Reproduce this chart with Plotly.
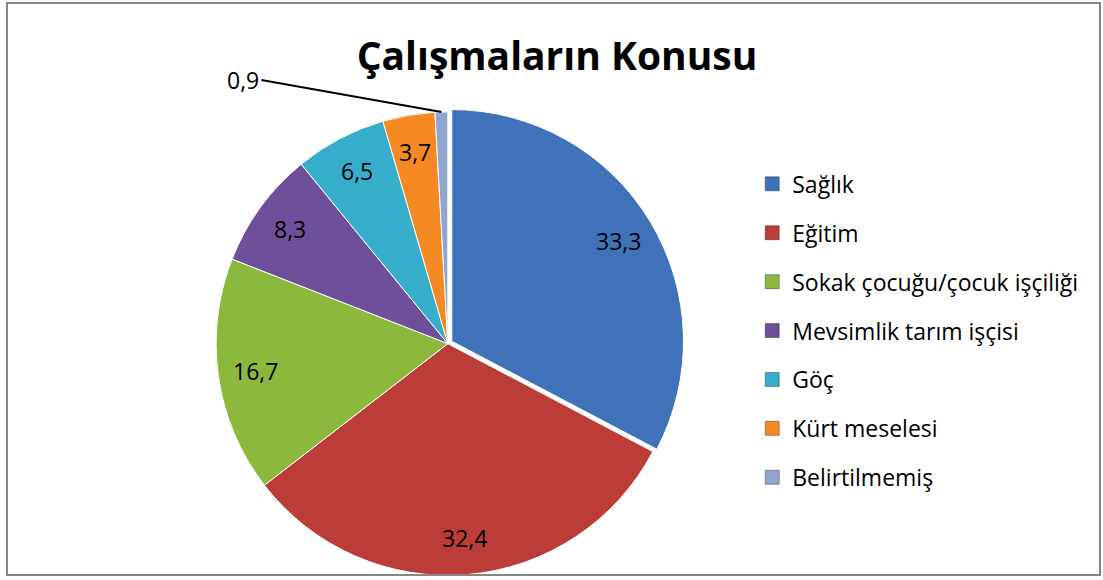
import math
import plotly.graph_objects as go

categories = ["Sağlık", "Eğitim", "Sokak çocuğu/çocuk işçiliği", "Mevsimlik tarım işçisi",
              "Göç", "Kürt meselesi", "Belirtilmemiş"]
values = [33.3, 32.4, 16.7, 8.3, 6.5, 3.7, 0.9]
colors = ["#3F72B8", "#BC3C38", "#8DB83E", "#6E4F9A", "#36AECB", "#F58A25", "#90A6D0"]
title_text = "Çalışmaların Konusu"

labels_txt = [f"{v:.1f}".replace(".", ",") for v in values]
pulls = [0.02] + [0] * (len(values) - 1)

W, H = 1103, 580
dom_x = [0.190, 0.622]
dom_y = [0.0, 0.815]
FONT = "Open Sans"

fig = go.Figure()
fig.add_trace(go.Pie(
    labels=categories, values=values,
    textinfo="none",
    sort=False, direction="clockwise", rotation=0,
    pull=pulls,
    marker=dict(colors=colors, line=dict(color="white", width=1)),
    domain=dict(x=dom_x, y=dom_y),
    hoverinfo="label+value",
    showlegend=False,
))

# legend entries (one per category) so spacing can be controlled
for cat, col in zip(categories, colors):
    fig.add_trace(go.Scatter(
        x=[None], y=[None], mode="markers", name=cat, legendgroup=cat,
        marker=dict(symbol="square", size=14, color=col, line=dict(color="rgba(0,0,0,0.35)", width=1)),
        showlegend=True, hoverinfo="skip",
    ))

# label geometry derived from the data
total = sum(values)
cx = (dom_x[0] + dom_x[1]) / 2 * W
cy = (dom_y[0] + dom_y[1]) / 2 * H
r = min((dom_x[1] - dom_x[0]) * W, (dom_y[1] - dom_y[0]) * H) / 2 / (1 + max(pulls))

cum = 0.0
for i, v in enumerate(values):
    mid = cum + v / 2
    cum += v
    theta = 2 * math.pi * mid / total
    if i < len(values) - 1:
        rr = r * (0.84 + pulls[i])
        px = cx + rr * math.sin(theta)
        py = cy + rr * math.cos(theta)
        fig.add_annotation(x=px / W, y=py / H, xref="paper", yref="paper",
                           text=labels_txt[i], showarrow=False,
                           xanchor="center", yanchor="middle",
                           font=dict(family=FONT, size=23, color="black"))
    else:
        px = cx + r * math.sin(theta)
        py = cy + r * math.cos(theta)
        fig.add_annotation(
            x=px / W, y=py / H, xref="paper", yref="paper",
            text=labels_txt[i], showarrow=True, arrowhead=0, arrowwidth=2, arrowcolor="black",
            ax=-180, ay=-32, xanchor="right",
            font=dict(family=FONT, size=23, color="black"),
        )

fig.add_shape(type="rect", xref="paper", yref="paper",
              x0=7 / W, x1=1100 / W, y0=1 - 575 / H, y1=1 - 3 / H,
              line=dict(color="#868686", width=2))

fig.update_layout(
    width=W, height=H,
    margin=dict(l=0, r=0, t=0, b=0),
    paper_bgcolor="white", plot_bgcolor="white",
    xaxis=dict(visible=False), yaxis=dict(visible=False),
    title=dict(text="<b>" + title_text + "</b>", x=0.505, xanchor="center", y=0.902, yanchor="middle",
               font=dict(family=FONT, size=39, color="black")),
    legend=dict(x=0.682, y=0.72, xanchor="left", yanchor="top",
                font=dict(family=FONT, size=23, color="black"),
                traceorder="grouped", tracegroupgap=16, itemwidth=30,
                bgcolor="rgba(0,0,0,0)"),
    showlegend=True,
)

fig.write_html("out.html", config={"displayModeBar": False},
               post_script="document.body.style.margin='0px';")
